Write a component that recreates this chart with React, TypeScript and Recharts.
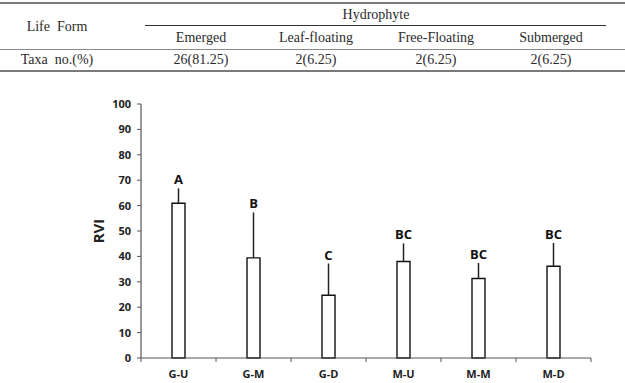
import React from "react";
import {
  BarChart,
  Bar,
  XAxis,
  YAxis,
  ErrorBar,
  LabelList,
  Label,
} from "recharts";

// table values
const lifeFormTitle = "Life Form";
const groupTitle = "Hydrophyte";
const formNames = ["Emerged", "Leaf-floating", "Free-Floating", "Submerged"];
const taxaCounts = [26, 2, 2, 2];
const taxaPercents = ["81.25", "6.25", "6.25", "6.25"];
const rowTitle = "Taxa no.(%)";

// RVI by site
const sites = ["G-U", "G-M", "G-D", "M-U", "M-M", "M-D"];
const rviMean = [60.9, 39.4, 24.7, 38.0, 31.3, 36.1];
const rviSd = [5.9, 17.9, 12.5, 7.1, 6.1, 9.2];
const groupLetters = ["A", "B", "C", "BC", "BC", "BC"];
const yTicks = [0, 10, 20, 30, 40, 50, 60, 70, 80, 90, 100];

const chartData = sites.map((s, i) => ({
  site: s,
  mean: rviMean[i],
  sd: rviSd[i],
  err: [0, rviSd[i]],
  letter: groupLetters[i],
}));

// column centres of the table
const colCenters = [201, 316, 436, 551];
const serif = "'Liberation Serif', 'Times New Roman', serif";
const sans = "'Open Sans', 'Noto Sans', sans-serif";

const X_TICK_SIZE = 4;
const X_TICK_MARGIN = 8;
const axisColor = "#555";

function Cell({ x, y, children }: { x: number; y: number; children: React.ReactNode }) {
  return (
    <div
      style={{
        position: "absolute",
        left: x - 100,
        top: y - 10,
        width: 200,
        height: 20,
        lineHeight: "20px",
        textAlign: "center",
        fontFamily: serif,
        fontSize: 14,
        color: "#2b2b2b",
        whiteSpace: "pre",
      }}
    >
      {children}
    </div>
  );
}

function Rule({ y, x1, x2, h, color }: { y: number; x1: number; x2: number; h: number; color: string }) {
  return (
    <div
      style={{
        position: "absolute",
        left: x1,
        top: y,
        width: x2 - x1,
        height: h,
        background: color,
      }}
    />
  );
}

// category label plus tick marks on the band edges (Excel style)
function SiteTick(props: any) {
  const { x, y, payload, index, width, visibleTicksCount } = props;
  const half =
    payload && payload.offset ? payload.offset : width / visibleTicksCount / 2;
  const axisY = y - X_TICK_SIZE - X_TICK_MARGIN;
  return (
    <g>
      {index === 0 && (
        <line x1={x - half} x2={x - half} y1={axisY} y2={axisY + X_TICK_SIZE} stroke={axisColor} />
      )}
      <line x1={x + half} x2={x + half} y1={axisY} y2={axisY + X_TICK_SIZE} stroke={axisColor} />
      <text
        x={x}
        y={y}
        dy="0.71em"
        textAnchor="middle"
        fill="#222"
        fontSize={11}
        fontWeight={700}
        fontFamily={sans}
      >
        {payload.value}
      </text>
    </g>
  );
}

export default function App() {
  return (
    <div
      style={{
        position: "absolute",
        left: 0,
        top: 0,
        width: 625,
        height: 383,
        background: "#fff",
        overflow: "hidden",
      }}
    >
      <Rule y={2} x1={0} x2={625} h={2} color="#7a7a7a" />
      <Rule y={25} x1={145} x2={606} h={1} color="#333" />
      <Rule y={49} x1={0} x2={625} h={1} color="#8a8a8a" />
      <Rule y={70} x1={0} x2={625} h={2} color="#7a7a7a" />

      <Cell x={57} y={27}>{lifeFormTitle.replace(" ", "  ")}</Cell>
      <Cell x={376} y={15}>{groupTitle}</Cell>
      {formNames.map((f, i) => (
        <Cell key={f} x={colCenters[i]} y={38}>
          {f}
        </Cell>
      ))}
      <Cell x={57} y={60}>{rowTitle.replace(" ", "  ")}</Cell>
      {taxaCounts.map((n, i) => (
        <Cell key={i} x={colCenters[i]} y={60}>
          {`${n}(${taxaPercents[i]})`}
        </Cell>
      ))}

      <div style={{ position: "absolute", left: 0, top: 80 }}>
        <BarChart
          width={625}
          height={303}
          data={chartData}
          margin={{ top: 24, right: 34, bottom: 5, left: 101 }}
          barSize={13}
        >
          <XAxis
            dataKey="site"
            tickLine={false}
            axisLine={{ stroke: axisColor, strokeWidth: 1.2 }}
            tickSize={X_TICK_SIZE}
            tickMargin={X_TICK_MARGIN}
            height={20}
            interval={0}
            tick={<SiteTick />}
          />
          <YAxis
            domain={[0, 100]}
            ticks={yTicks}
            width={40}
            tickSize={4}
            tickMargin={6}
            axisLine={{ stroke: axisColor, strokeWidth: 1.2 }}
            tickLine={{ stroke: axisColor }}
            tick={{ fill: "#222", fontSize: 11, fontWeight: 700, fontFamily: sans }}
          >
            <Label
              value="RVI"
              angle={-90}
              position="insideLeft"
              offset={-2}
              style={{ fill: "#222", fontSize: 15, fontWeight: 700, fontFamily: sans, textAnchor: "middle" }}
            />
          </YAxis>
          <Bar
            dataKey="mean"
            stackId="rvi"
            fill="#fff"
            stroke="#111"
            strokeWidth={1.4}
            isAnimationActive={false}
          >
            <ErrorBar dataKey="err" direction="y" width={0} stroke="#222" strokeWidth={1.5} />
          </Bar>
          <Bar dataKey="sd" stackId="rvi" fill="transparent" isAnimationActive={false}>
            <LabelList
              dataKey="letter"
              position="top"
              offset={4}
              style={{ fill: "#111", fontSize: 13, fontWeight: 700, fontFamily: sans }}
            />
          </Bar>
        </BarChart>
      </div>
    </div>
  );
}
